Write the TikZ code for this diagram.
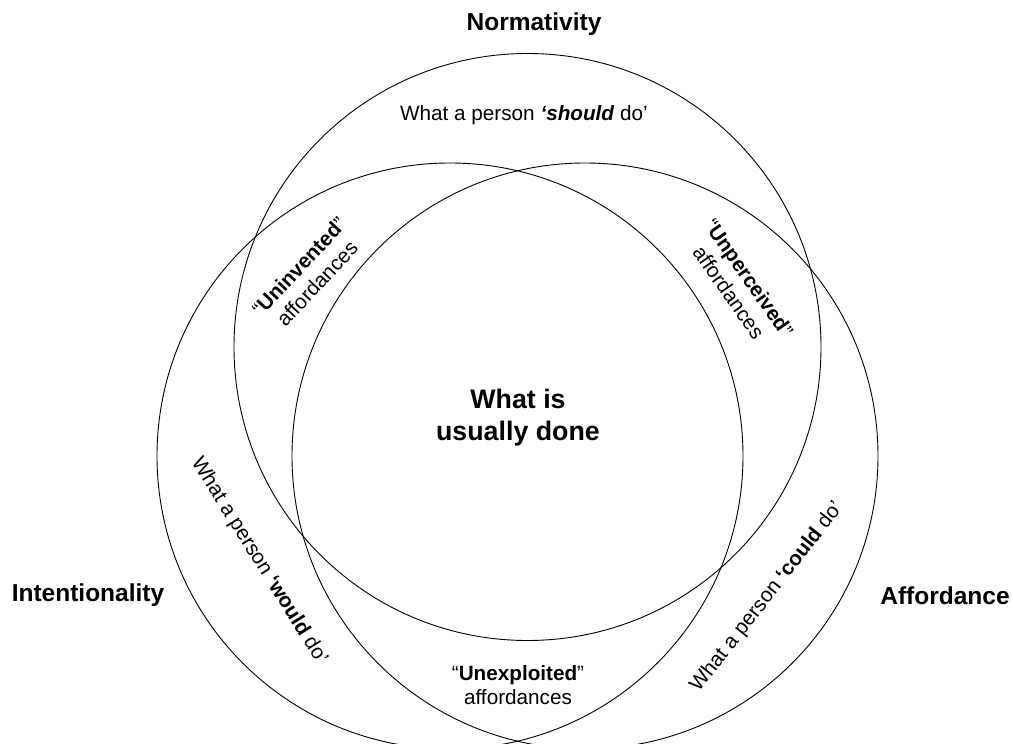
\documentclass[tikz,border=0pt]{standalone}
\usepackage{fontspec}
\setmainfont{Liberation Sans}
\begin{document}
\begin{tikzpicture}[x=1pt,y=-1pt,
  ring/.style={circle,draw,line width=0.9pt,inner sep=0pt,minimum size=#1},
  body/.style={font=\fontsize{20.7}{24.8}\selectfont,align=center,inner sep=0pt},
  title/.style={font=\fontsize{24.5}{29}\selectfont\bfseries,inner sep=0pt},
  core/.style={font=\fontsize{26.8}{32}\selectfont\bfseries,align=center,inner sep=0pt}]
\useasboundingbox (0,0) rectangle (1013,744);
% the three overlapping sets
\begin{scope}
  \clip (0,0) rectangle (1013,744);
  \node[ring=587pt] (norm)   at (527.5,347) {};
  \node[ring=586pt] (intent) at (450,456) {};
  \node[ring=586pt] (afford) at (585,456) {};
\end{scope}
% set names
\node[title] (ttlN) at (534,24)  {Normativity};
\node[title] (ttlI) at (88,595)  {Intentionality};
\node[title] (ttlA) at (945,596) {Affordance};
% region labels
\node[body] (should) at (524,115) {What a person \textbf{\textit{‘should}} do’};
\node[core] (usual) at (518,418) {What is\\usually done};
\node[body,rotate=47]  (uninv)  at (308,275) {“\textbf{Uninvented}”\\affordances};
\node[body,rotate=-55] (unperc) at (739,285) {“\textbf{Unperceived}”\\affordances};
\node[body] (unexp) at (518,685) {“\textbf{Unexploited}”\\affordances};
\node[body,rotate=-58] (would) at (259,561) {What a person \textbf{‘would} do’};
\node[body,rotate=52]  (could) at (767,597) {What a person \textbf{‘could} do’};
\end{tikzpicture}
\end{document}
